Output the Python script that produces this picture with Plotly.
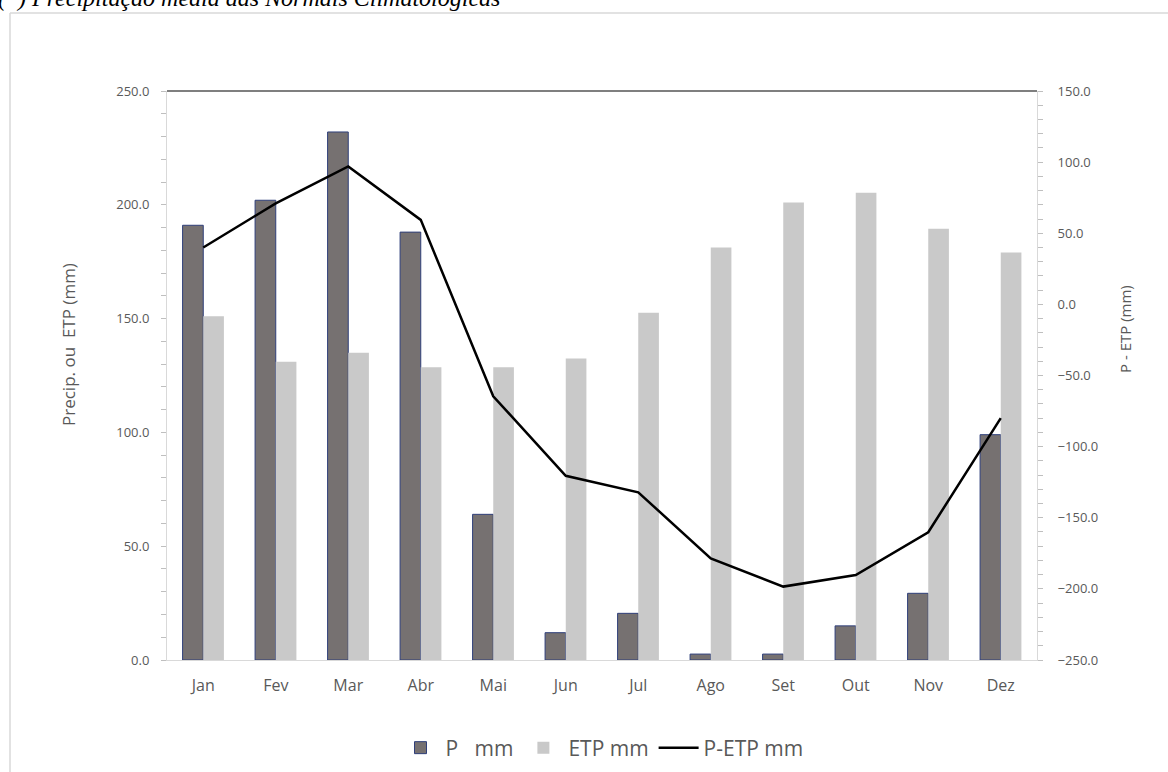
import plotly.graph_objects as go

months = ["Jan", "Fev", "Mar", "Abr", "Mai", "Jun", "Jul", "Ago", "Set", "Out", "Nov", "Dez"]
p_mm = [191, 202, 232, 188, 64, 12, 20.5, 2.6, 2.6, 15, 29.3, 99]
etp_mm = [151, 131, 135, 128.6, 128.6, 132.5, 152.6, 181.2, 201, 205.3, 189.5, 179]
p_etp_mm = [40, 71, 97, 59.4, -64.6, -120.5, -132.1, -178.6, -198.4, -190.3, -160.2, -80]

W, H = 1168, 772
L, R, T, B = 167, 1037, 91, 660

def px(x):
    return (x - L) / (R - L)

def py(y):
    return (B - y) / (B - T)

tick_font = dict(family="Open Sans", size=13, color="#595959")

fig = go.Figure()
fig.add_trace(go.Bar(
    x=months, y=p_mm, name="P\u00a0\u00a0\u00a0mm",
    marker=dict(color="#767171", line=dict(color="#2F3F7A", width=1)),
))
fig.add_trace(go.Bar(
    x=months, y=etp_mm, name="ETP mm",
    marker=dict(color="#C9C9C9", line=dict(width=0)),
))
fig.add_trace(go.Scatter(
    x=months, y=p_etp_mm, name="P-ETP mm", yaxis="y2", mode="lines",
    line=dict(color="black", width=2.5),
))

fig.update_layout(
    width=W, height=H,
    margin=dict(l=L, r=W - R, t=T, b=H - B, pad=0, autoexpand=False),
    paper_bgcolor="white", plot_bgcolor="white",
    barmode="group", bargap=0.43, bargroupgap=0,
    font=dict(family="Open Sans", color="#595959"),
    showlegend=True,
    legend=dict(orientation="h", x=0.5, xanchor="center", y=py(748), yanchor="middle",
                font=dict(family="Open Sans", size=21, color="#595959"),
                itemwidth=40, traceorder="normal"),
    xaxis=dict(showline=True, linecolor="#d9d9d9", linewidth=1, ticks="",
               tickfont=dict(family="Open Sans", size=16, color="#595959"),
               ticklabelstandoff=11,
               showgrid=False, zeroline=False),
    yaxis=dict(range=[0, 250], dtick=50, tickformat=".1f", showgrid=False, zeroline=False,
               showline=True, linecolor="#d9d9d9", linewidth=1,
               ticks="outside", ticklen=5, tickcolor="#bfbfbf",
               minor=dict(dtick=10, ticks="outside", ticklen=5, tickcolor="#bfbfbf"),
               tickfont=tick_font, ticklabelstandoff=9),
    yaxis2=dict(range=[-250, 150], dtick=50, tickformat=".1f", overlaying="y", side="right",
                showgrid=False, zeroline=False,
                showline=True, linecolor="#d9d9d9", linewidth=1,
                ticks="outside", ticklen=5, tickcolor="#bfbfbf",
                minor=dict(dtick=10, ticks="outside", ticklen=5, tickcolor="#bfbfbf"),
                tickfont=tick_font, ticklabelstandoff=12),
    shapes=[
        dict(type="line", xref="paper", yref="paper", x0=0, x1=1, y0=1, y1=1,
             line=dict(color="#7f7f7f", width=2)),
        dict(type="line", xref="paper", yref="paper", x0=px(10), x1=px(W + 5), y0=py(13), y1=py(13),
             line=dict(color="#d9d9d9", width=1.5)),
        dict(type="line", xref="paper", yref="paper", x0=px(10), x1=px(10), y0=py(13), y1=py(H + 5),
             line=dict(color="#d9d9d9", width=1.5)),
    ],
    annotations=[
        dict(text="Precip. ou  ETP (mm)", xref="paper", yref="paper", x=px(68), y=py(345),
             xanchor="center", yanchor="middle", textangle=-90, showarrow=False,
             font=dict(family="Open Sans", size=17, color="#595959")),
        dict(text="P - ETP (mm)", xref="paper", yref="paper", x=px(1125), y=py(329),
             xanchor="center", yanchor="middle", textangle=-90, showarrow=False,
             font=dict(family="Open Sans", size=15, color="#595959")),
        dict(text="<i>(*) Precipitação média das Normais Climatológicas</i>", xref="paper", yref="paper",
             x=px(-4), y=py(-2), xanchor="left", yanchor="middle", showarrow=False,
             font=dict(family="Liberation Serif", size=24, color="#000000")),
    ],
)

fig.write_html("out.html", config={"displayModeBar": False},
               post_script="document.body.style.margin='0px';")
